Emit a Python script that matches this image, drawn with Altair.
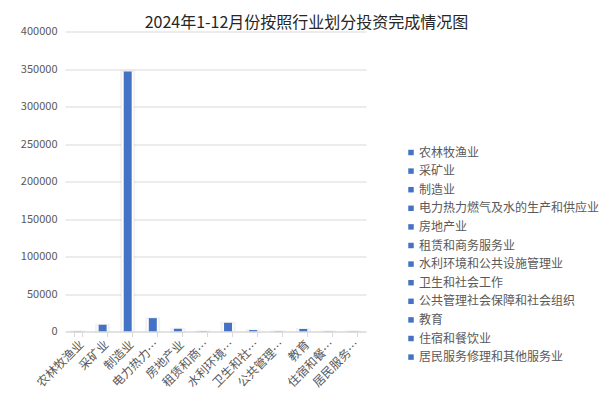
import altair as alt
import pandas as pd

industries = ["农林牧渔业", "采矿业", "制造业", "电力热力燃气及水的生产和供应业", "房地产业",
              "租赁和商务服务业", "水利环境和公共设施管理业", "卫生和社会工作",
              "公共管理社会保障和社会组织", "教育", "住宿和餐饮业", "居民服务修理和其他服务业"]
investment = [300, 9000, 346700, 17800, 3600, 400, 11600, 1900, 400, 3300, 300, 250]

df = pd.DataFrame({"industry": industries, "value": investment})

FONT = "Noto Sans CJK SC"
BLUE = "#4472C4"
GRAY = "#595959"

x_enc = alt.X("industry:N", sort=industries, title=None,
              scale=alt.Scale(paddingInner=0.68, paddingOuter=0.34),
              axis=alt.Axis(labelAngle=-45, labelFontSize=12, labelColor=GRAY,
                            labelExpr="length(datum.label) > 5 ? substring(datum.label, 0, 4) + '…' : datum.label",
                            domainColor="#d9d9d9", tickColor="#d9d9d9", tickSize=5,
                            tickBand="extent", labelPadding=2, zindex=1))
y_enc = alt.Y("value:Q", title=None,
              scale=alt.Scale(domain=[0, 400000], nice=False),
              axis=alt.Axis(values=list(range(0, 400001, 50000)), format="d",
                            labelFontSize=11, labelColor=GRAY, domain=False, ticks=False,
                            gridColor="#d9d9d9", labelPadding=8))

shadow = alt.Chart(df).mark_bar(size=13, color="white", stroke="#000000", strokeOpacity=0.05,
                                strokeWidth=2).encode(x=x_enc, y=y_enc)
bars = alt.Chart(df).mark_bar(size=8).encode(
    x=x_enc, y=y_enc,
    color=alt.Color("industry:N", sort=industries,
                    scale=alt.Scale(domain=industries, range=[BLUE] * 12),
                    legend=alt.Legend(title=None, orient="none", legendX=340, legendY=115,
                                      symbolType="square", symbolSize=30, symbolStrokeWidth=0,
                                      labelFontSize=12, labelColor=GRAY, rowPadding=6.6,
                                      labelOffset=2, padding=0, labelLimit=300))
)

chart = alt.layer(shadow, bars).properties(
    width=301, height=300,
    autosize=alt.AutoSizeParams(type="none"),
    padding={"left": 57, "top": 23.5, "right": 238, "bottom": 70},
    title=alt.TitleParams("2024年1-12月份按照行业划分投资完成情况图", fontSize=16,
                          fontWeight="normal", color="#262626", font=FONT,
                          anchor="middle", dx=91, dy=7, offset=2),
).configure(font=FONT).configure_view(stroke=None)

chart.save("out.html", embed_options={"renderer": "svg", "actions": False})
